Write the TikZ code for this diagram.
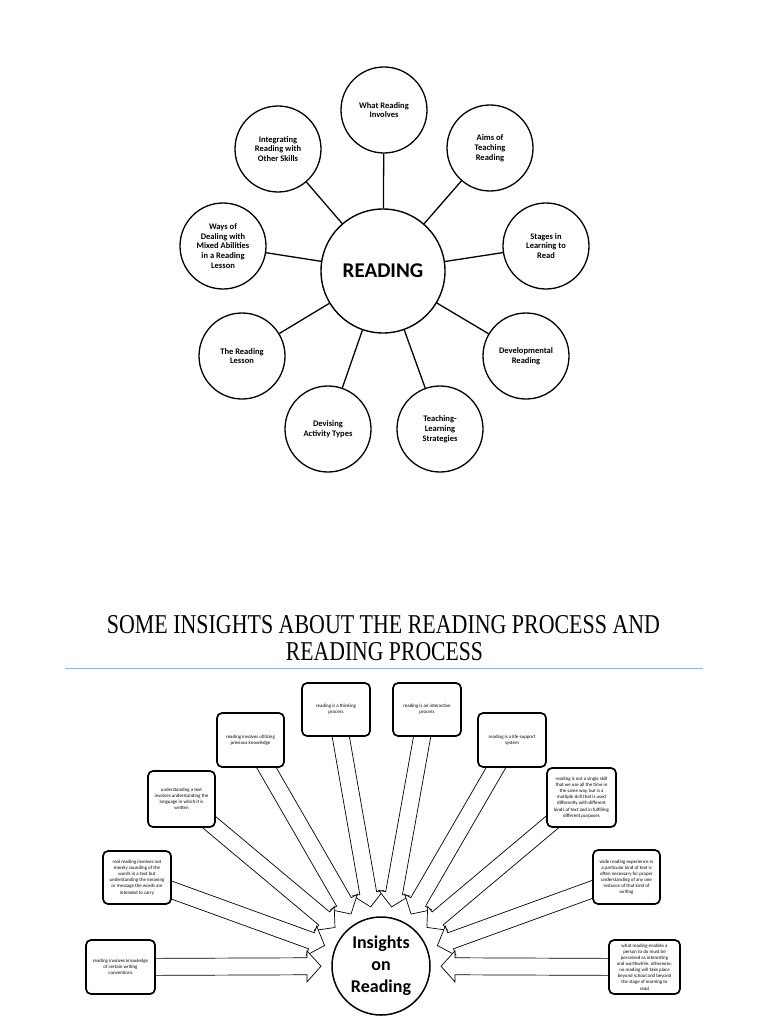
\documentclass[tikz,border=0pt]{standalone}
\usepackage{fontspec}
\usepackage{graphicx}
\setmainfont{Carlito}
\newfontfamily\titlefont{Liberation Serif}
\usetikzlibrary{calc}
\pgfdeclarelayer{pagebg}
\pgfdeclarelayer{arrowlayer}
\pgfsetlayers{pagebg,arrowlayer,main}
\newcommand\blockarrow[2]{%
  \coordinate (bt) at (#1.center);
  \coordinate (bp) at ($(ins.center)!60pt!(#1.center)$);
  \coordinate (bh) at ($(bp)!14pt!(bt)$);
  \draw[blockarr] ($(bt)!8.5pt!90:(bp)$) -- ($(bh)!8.5pt!90:(bp)$) -- ($(bh)!15.5pt!90:(bp)$) -- (bp)
     -- ($(bh)!15.5pt!-90:(bp)$) -- ($(bh)!8.5pt!-90:(bp)$) -- ($(bt)!8.5pt!-90:(bp)$) -- cycle;}
\begin{document}
\begin{tikzpicture}[x=1pt,y=-1pt,
  topc/.style={circle,draw,line width=1.3pt,minimum size=86pt,inner sep=0pt,align=center,
    font=\bfseries\fontsize{8.5}{9.8}\selectfont},
  hubc/.style={circle,draw,line width=1.4pt,minimum size=124pt,inner sep=0pt,
    font=\bfseries\fontsize{21}{24}\selectfont},
  conn/.style={line width=1.3pt},
  ibox/.style={draw,rounded corners=5pt,line width=1.7pt,fill=white,inner sep=0pt,align=center,
    font=\fontsize{4.9}{6.1}\selectfont},
  blockarr/.style={draw,line width=0.7pt,fill=white,line join=miter},
  titlec/.style={inner sep=0pt}]
\begin{pgfonlayer}{pagebg}
\fill[white] (0,0) rectangle (768,1024);
\end{pgfonlayer}
\useasboundingbox (0,0) rectangle (768,1024);

% ---------- top mind map ----------
\node[hubc] (read) at (383,271) {READING};
\node[topc] (what) at (384,110) {What Reading\\Involves};
\node[topc] (aims) at (490,148) {Aims of\\Teaching\\Reading};
\node[topc] (integ) at (278,149) {Integrating\\Reading with\\Other Skills};
\node[topc] (ways) at (223,246) {Ways of\\Dealing with\\Mixed Abilities\\in a Reading\\Lesson};
\node[topc] (stages) at (546,246) {Stages in\\Learning to\\Read};
\node[topc] (lesson) at (242,356) {The Reading\\Lesson};
\node[topc] (devel) at (526,356) {Developmental\\Reading};
\node[topc] (devis) at (328,429) {Devising\\Activity Types};
\node[topc] (teach) at (440,429) {Teaching-\\Learning\\Strategies};
\foreach \n in {what,aims,integ,ways,stages,lesson,devel,devis,teach}
  \draw[conn] (read) -- (\n);

% ---------- title ----------
\node[titlec] (t1) at (383.5,625) {\resizebox{553pt}{18pt}{\titlefont SOME INSIGHTS ABOUT THE READING PROCESS AND}};
\node[titlec] (t2) at (384.5,652) {\resizebox{197pt}{18pt}{\titlefont READING PROCESS}};
\coordinate (rl) at (65,668);
\coordinate (rr) at (703,668);
\draw[line width=1pt,color={rgb,255:red,149;green,179;blue,215}] (rl) -- (rr);

% ---------- insights ----------
\node[circle,draw,line width=1.5pt,minimum size=98pt,inner sep=0pt,align=center,fill=white,
  font=\bfseries\fontsize{18}{22}\selectfont] (ins) at (381,966) {Insights\\on\\Reading};

\node[ibox,minimum width=68pt,minimum height=53pt] (think) at (336,709.5) {reading is a thinking\\process};
\node[ibox,minimum width=68pt,minimum height=53pt] (inter) at (427,709.5) {reading is an interactive\\process};
\node[ibox,minimum width=67pt,minimum height=54pt] (util) at (250.5,740) {reading involves utilizing\\previous knowledge};
\node[ibox,minimum width=68pt,minimum height=54pt] (life) at (512,740) {reading is a life-support\\system};
\node[ibox,minimum width=67pt,minimum height=56pt] (under) at (181.5,799) {understanding a text\\involves understanding the\\language in which it is\\written};
\node[ibox,minimum width=69pt,minimum height=59pt] (single) at (581.5,797.5) {reading is not a single skill\\that we use all the time in\\the same way, but is a\\multiple skill that is used\\differently with different\\kinds of text and in fulfilling\\different purposes};
\node[ibox,minimum width=68pt,minimum height=53pt] (real) at (137,877.5) {real reading involves not\\merely sounding of the\\words in a text but\\understanding the meaning\\or message the words are\\intended to carry};
\node[ibox,minimum width=67pt,minimum height=54pt] (wide) at (626.5,877) {wide reading experience in\\a particular kind of text is\\often necessary for proper\\understanding of any one\\instance of that kind of\\writing};
\node[ibox,minimum width=69pt,minimum height=54pt] (conv) at (120.5,967) {reading involves knowledge\\of certain writing\\conventions};
\node[ibox,minimum width=71pt,minimum height=54pt] (enab) at (644.5,967) {what reading enables a\\person to do must be\\perceived as interesting\\and worthwhile. otherwise,\\no reading will take place\\beyond school and beyond\\the stage of learning to\\read};

\begin{pgfonlayer}{arrowlayer}
\foreach \b in {think,inter,util,life,under,single,real,wide,conv,enab}
  {\blockarrow{\b}{ins}}
\end{pgfonlayer}
\end{tikzpicture}
\end{document}
